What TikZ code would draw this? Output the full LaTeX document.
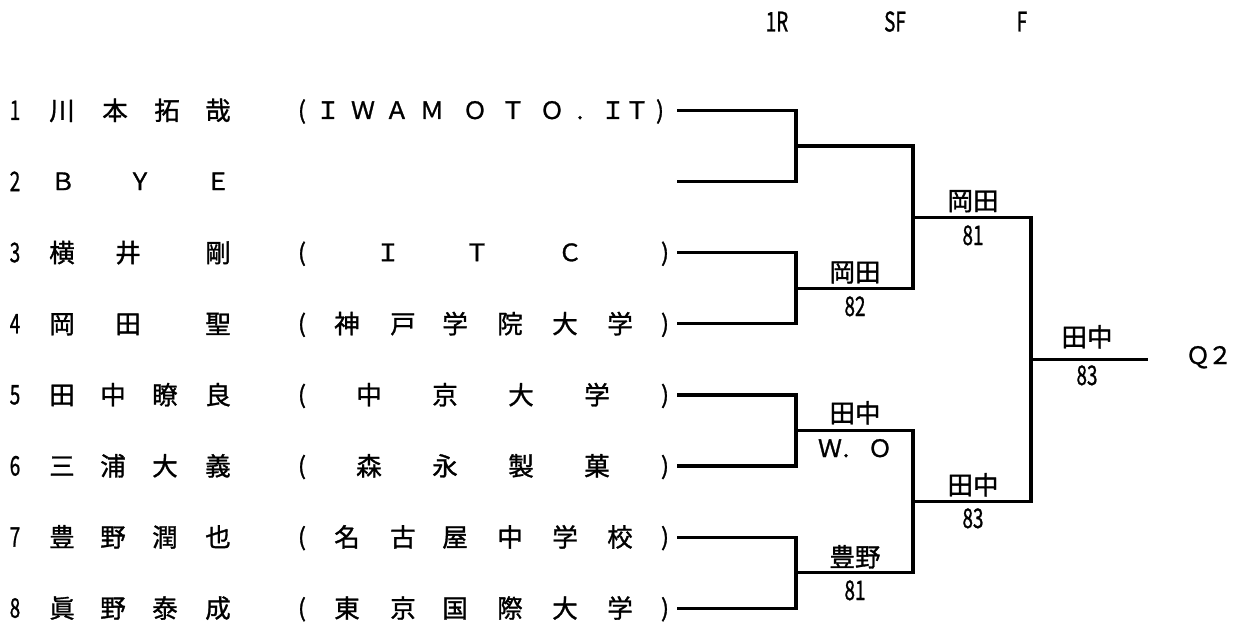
\documentclass[tikz,border=0pt]{standalone}
\usepackage{fontspec}
\usepackage{graphicx}
\setmainfont{Noto Sans CJK JP}[FakeBold=1.2]
\newcommand\narrowdig[1]{\scalebox{0.7}[1]{\fontsize{27}{27}\selectfont #1}}
\tikzset{
  wire/.style={line width=3.2pt, line join=miter},
  cell/.style={anchor=base, inner sep=0pt, font=\fontsize{25.5}{25.5}\selectfont},
  latin/.style={anchor=base, inner sep=0pt, font=\fontsize{24}{24}\selectfont},
}
\begin{document}
\begin{tikzpicture}[x=1pt,y=-1pt]
\useasboundingbox (0,0) rectangle (1235,623);
% header
\node[cell] (h1) at (777,31.5) {\narrowdig{1R}};
\node[cell] (h2) at (895,31.5) {\narrowdig{SF}};
\node[cell] (h3) at (1022,31.5) {\narrowdig{F}};
% row numbers
\foreach \i/\y in {1/120,2/191.1,3/262.2,4/333.3,5/404.4,6/475.5,7/546.6,8/617.7}
  {\node[cell] (n\i) at (15,\y) {\narrowdig{\i}};}
% row 1
\foreach \x/\c [count=\k] in {62/川,115/本,167/拓,218/哉}
  {\node[cell] (r1k\k) at (\x,120) {\c};}
\foreach \x/\c [count=\k] in {302/(,328/Ｉ,363/Ｗ,397/Ａ,432/Ｍ,475/Ｏ,513/Ｔ,552/Ｏ,580/.,613/Ｉ,637/Ｔ,660/)}
  {\node[latin] (r1l\k) at (\x,119) {\c};}
% row 2
\foreach \x/\c [count=\k] in {63/Ｂ,140/Ｙ,218/Ｅ}
  {\node[latin] (r2l\k) at (\x,190.1) {\c};}
% row 3
\foreach \x/\c [count=\k] in {62/横,128/井,218/剛}
  {\node[cell] (r3k\k) at (\x,262.2) {\c};}
\foreach \x/\c [count=\k] in {302/(,388/Ｉ,477/Ｔ,570/Ｃ,665/)}
  {\node[latin] (r3l\k) at (\x,261.2) {\c};}
% row 4
\foreach \x/\c [count=\k] in {62/岡,128/田,218/聖,347/神,403/戸,455/学,510/院,565/大,620/学}
  {\node[cell] (r4k\k) at (\x,333.3) {\c};}
\foreach \x/\c [count=\k] in {302/(,665/)}
  {\node[latin] (r4l\k) at (\x,332.3) {\c};}
% row 5
\foreach \x/\c [count=\k] in {62/田,113/中,165/瞭,218/良,369/中,445/京,521/大,597/学}
  {\node[cell] (r5k\k) at (\x,404.4) {\c};}
\foreach \x/\c [count=\k] in {302/(,665/)}
  {\node[latin] (r5l\k) at (\x,403.4) {\c};}
% row 6
\foreach \x/\c [count=\k] in {62/三,113/浦,165/大,218/義,369/森,445/永,521/製,597/菓}
  {\node[cell] (r6k\k) at (\x,475.5) {\c};}
\foreach \x/\c [count=\k] in {302/(,665/)}
  {\node[latin] (r6l\k) at (\x,474.5) {\c};}
% row 7
\foreach \x/\c [count=\k] in {62/豊,113/野,165/潤,218/也,347/名,403/古,455/屋,510/中,565/学,620/校}
  {\node[cell] (r7k\k) at (\x,546.6) {\c};}
\foreach \x/\c [count=\k] in {302/(,665/)}
  {\node[latin] (r7l\k) at (\x,545.6) {\c};}
% row 8
\foreach \x/\c [count=\k] in {62/眞,113/野,165/泰,218/成,347/東,403/京,455/国,510/際,565/大,620/学}
  {\node[cell] (r8k\k) at (\x,617.7) {\c};}
\foreach \x/\c [count=\k] in {302/(,665/)}
  {\node[latin] (r8l\k) at (\x,616.7) {\c};}
% bracket points
\foreach \i/\y in {1/110.5,2/181.6,3/252.7,4/323.8,5/394.9,6/466,7/537.1,8/608.2}
  {\coordinate (p\i) at (677,\y);}
\coordinate (m1) at (796,146);
\coordinate (m2) at (796,288.2);
\coordinate (m3) at (796,430.5);
\coordinate (m4) at (796,572.6);
\coordinate (s1) at (913,217.1);
\coordinate (s2) at (913,501.6);
\coordinate (fin) at (1031,359.3);
\coordinate (q) at (1148,359.3);
\draw[wire] (p1) -| (m1) |- (p2);
\draw[wire] (p3) -| (m2) |- (p4);
\draw[wire] (p5) -| (m3) |- (p6);
\draw[wire] (p7) -| (m4) |- (p8);
\draw[wire] (m1) -| (s1) |- (m2);
\draw[wire] (m3) -| (s2) |- (m4);
\draw[wire] (s1) -| (fin) |- (s2);
\draw[wire] (fin) -- (q);
% result labels
\node[cell] (w2) at (855,281.5) {岡田};
\node[cell] (sc2) at (855,316) {\narrowdig{82}};
\node[cell] (w3) at (855,422.5) {田中};
\node[latin] (wo1) at (830,457) {Ｗ};
\node[latin] (wo2) at (846,457) {.};
\node[latin] (wo3) at (880,457) {Ｏ};
\node[cell] (w4) at (855,566.5) {豊野};
\node[cell] (sc4) at (855,600) {\narrowdig{81}};
\node[cell] (ws1) at (973,210.2) {岡田};
\node[cell] (scs1) at (973,245) {\narrowdig{81}};
\node[cell] (ws2) at (973,494.5) {田中};
\node[cell] (scs2) at (973,528) {\narrowdig{83}};
\node[cell] (wf) at (1087,346.5) {田中};
\node[cell] (scf) at (1087,385) {\narrowdig{83}};
\node[latin] (q1) at (1198,364) {Ｑ};
\node[latin] (q2) at (1220,364) {２};
\end{tikzpicture}
\end{document}
